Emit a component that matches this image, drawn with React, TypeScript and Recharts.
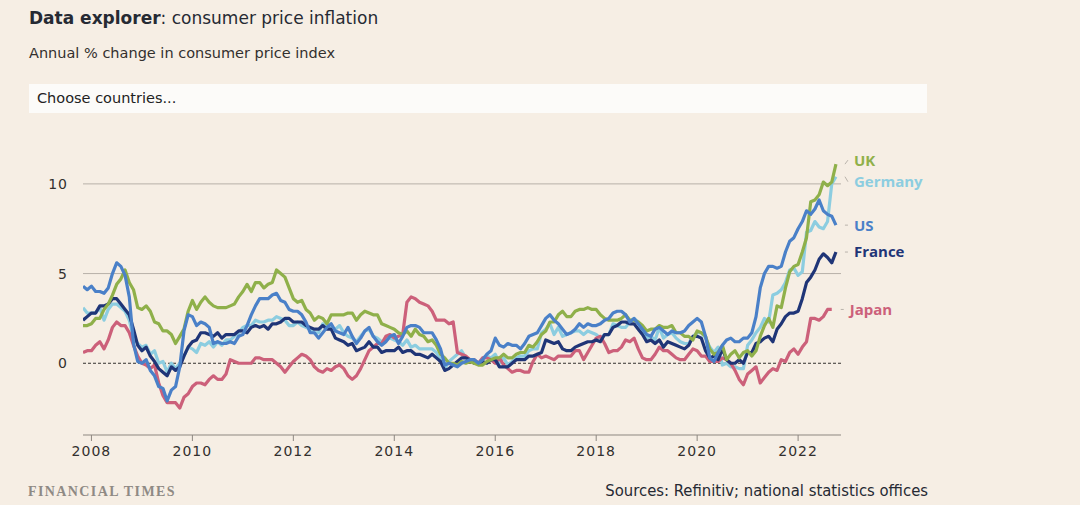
import { Line, LineChart, ReferenceLine, XAxis, YAxis } from "recharts";

// Monthly annual % change in CPI, Nov 2007 to Oct 2022
const START_YEAR = 2007;
const START_MONTH = 11;

const UK = [
  2.1, 2.1,
  2.2, 2.5, 2.5, 3.0, 3.3, 3.8, 4.4, 4.7, 5.2, 4.5, 4.1, 3.1,
  3.0, 3.2, 2.9, 2.3, 2.2, 1.8, 1.8, 1.6, 1.1, 1.5, 1.9, 2.9,
  3.5, 3.0, 3.4, 3.7, 3.4, 3.2, 3.1, 3.1, 3.1, 3.2, 3.3, 3.7,
  4.0, 4.4, 4.0, 4.5, 4.5, 4.2, 4.4, 4.5, 5.2, 5.0, 4.8, 4.2,
  3.6, 3.4, 3.5, 3.0, 2.8, 2.4, 2.6, 2.5, 2.2, 2.7, 2.7, 2.7,
  2.7, 2.8, 2.8, 2.4, 2.7, 2.9, 2.8, 2.7, 2.7, 2.2, 2.1, 2.0,
  1.9, 1.7, 1.6, 1.8, 1.5, 1.9, 1.6, 1.5, 1.2, 1.3, 1.0, 0.5,
  0.3, 0.0, 0.0, -0.1, 0.1, 0.0, 0.1, 0.0, -0.1, -0.1, 0.1, 0.2,
  0.3, 0.3, 0.5, 0.3, 0.3, 0.5, 0.6, 0.6, 1.0, 0.9, 1.2, 1.6,
  1.8, 2.3, 2.3, 2.7, 2.9, 2.6, 2.6, 2.9, 3.0, 3.0, 3.1, 3.0,
  3.0, 2.7, 2.5, 2.4, 2.4, 2.4, 2.5, 2.7, 2.4, 2.4, 2.3, 2.1,
  1.8, 1.9, 1.9, 2.1, 2.0, 2.0, 2.1, 1.7, 1.7, 1.5, 1.5, 1.3,
  1.8, 1.7, 1.5, 0.8, 0.5, 0.6, 1.0, 0.2, 0.5, 0.7, 0.3, 0.6,
  0.7, 0.4, 0.7, 1.5, 2.1, 2.5, 2.0, 3.2, 3.1, 4.2, 5.1, 5.4,
  5.5, 6.2, 7.0, 9.0, 9.1, 9.4, 10.1, 9.9, 10.1, 11.1,
];

const US = [
  4.3, 4.1,
  4.3, 4.0, 4.0, 3.9, 4.2, 5.0, 5.6, 5.4, 4.9, 3.7, 1.1, 0.1,
  0.0, 0.2, -0.4, -0.7, -1.3, -1.4, -2.1, -1.5, -1.3, -0.2, 1.8, 2.7,
  2.6, 2.1, 2.3, 2.2, 2.0, 1.1, 1.2, 1.1, 1.1, 1.2, 1.1, 1.5,
  1.6, 2.1, 2.7, 3.2, 3.6, 3.6, 3.6, 3.8, 3.9, 3.5, 3.4, 3.0,
  2.9, 2.9, 2.7, 2.3, 1.7, 1.7, 1.4, 1.7, 2.0, 2.2, 1.8, 1.7,
  1.6, 2.0, 1.5, 1.1, 1.4, 1.8, 2.0, 1.5, 1.2, 1.0, 1.2, 1.5,
  1.6, 1.1, 1.5, 2.0, 2.1, 2.1, 2.0, 1.7, 1.7, 1.7, 1.3, 0.8,
  -0.1, 0.0, -0.1, -0.2, 0.0, 0.1, 0.2, 0.2, 0.0, 0.2, 0.5, 0.7,
  1.4, 1.0, 0.9, 1.1, 1.0, 1.0, 0.8, 1.1, 1.5, 1.6, 1.7, 2.1,
  2.5, 2.7, 2.4, 2.2, 1.9, 1.6, 1.7, 1.9, 2.2, 2.0, 2.2, 2.1,
  2.1, 2.2, 2.4, 2.5, 2.8, 2.9, 2.9, 2.7, 2.3, 2.5, 2.2, 1.9,
  1.6, 1.5, 1.9, 2.0, 1.8, 1.6, 1.8, 1.7, 1.7, 1.8, 2.1, 2.3,
  2.5, 2.3, 1.5, 0.3, 0.1, 0.6, 1.0, 1.3, 1.4, 1.2, 1.2, 1.4,
  1.4, 1.7, 2.6, 4.2, 5.0, 5.4, 5.4, 5.3, 5.4, 6.2, 6.8, 7.0,
  7.5, 7.9, 8.5, 8.3, 8.6, 9.1, 8.5, 8.3, 8.2, 7.7,
];

const GERMANY = [
  3.1, 2.8,
  2.8, 2.8, 3.1, 2.4, 3.0, 3.3, 3.3, 3.1, 2.9, 2.4, 1.4, 1.1,
  0.9, 1.0, 0.5, 0.7, 0.0, 0.1, -0.5, 0.0, -0.3, 0.0, 0.4, 0.9,
  0.8, 0.6, 1.1, 1.0, 1.2, 0.9, 1.2, 1.0, 1.3, 1.3, 1.5, 1.7,
  2.0, 2.1, 2.1, 2.4, 2.3, 2.3, 2.4, 2.4, 2.6, 2.5, 2.4, 2.1,
  2.1, 2.3, 2.1, 2.0, 1.9, 1.7, 1.7, 2.2, 2.1, 2.0, 1.9, 2.1,
  1.7, 1.5, 1.4, 1.2, 1.5, 1.8, 1.9, 1.5, 1.4, 1.2, 1.3, 1.4,
  1.3, 1.2, 1.0, 1.3, 0.9, 1.0, 0.8, 0.8, 0.8, 0.8, 0.6, 0.2,
  -0.3, 0.1, 0.3, 0.5, 0.7, 0.3, 0.2, 0.2, 0.0, 0.3, 0.4, 0.3,
  0.5, 0.0, 0.3, -0.1, 0.1, 0.3, 0.4, 0.4, 0.7, 0.8, 0.8, 1.7,
  1.9, 2.2, 1.6, 2.0, 1.5, 1.6, 1.7, 1.8, 1.8, 1.6, 1.8, 1.7,
  1.6, 1.4, 1.6, 1.6, 2.2, 2.1, 2.0, 2.0, 2.3, 2.5, 2.3, 1.7,
  1.4, 1.5, 1.3, 2.0, 1.4, 1.6, 1.7, 1.4, 1.2, 1.1, 1.1, 1.5,
  1.7, 1.7, 1.4, 0.9, 0.6, 0.9, -0.1, 0.0, -0.2, -0.2, -0.3, -0.3,
  1.0, 1.3, 1.7, 2.0, 2.5, 2.3, 3.8, 3.9, 4.1, 4.5, 5.2, 5.3,
  4.9, 5.1, 7.3, 7.4, 7.9, 7.6, 7.5, 7.9, 10.0, 10.4,
];

const FRANCE = [
  2.4, 2.6,
  2.8, 2.8, 3.2, 3.2, 3.3, 3.6, 3.6, 3.3, 3.0, 2.7, 1.9, 1.0,
  0.7, 0.9, 0.4, 0.1, -0.3, -0.5, -0.7, -0.2, -0.4, -0.2, 0.4, 0.9,
  1.2, 1.3, 1.7, 1.7, 1.6, 1.5, 1.7, 1.4, 1.6, 1.6, 1.6, 1.8,
  1.8, 1.7, 2.0, 2.1, 2.0, 2.1, 1.9, 2.2, 2.2, 2.3, 2.5, 2.5,
  2.3, 2.3, 2.3, 2.1, 2.0, 1.9, 1.9, 2.1, 1.9, 1.9, 1.4, 1.3,
  1.2, 1.0, 1.1, 0.7, 0.8, 0.9, 1.2, 0.9, 0.9, 0.6, 0.7, 0.7,
  0.7, 0.9, 0.6, 0.7, 0.7, 0.5, 0.5, 0.4, 0.3, 0.5, 0.3, 0.1,
  -0.4, -0.3, -0.1, 0.1, 0.3, 0.3, 0.2, 0.0, 0.0, 0.1, 0.0, 0.2,
  0.2, -0.2, -0.2, -0.2, 0.0, 0.2, 0.2, 0.2, 0.4, 0.4, 0.5, 0.6,
  1.3, 1.2, 1.1, 1.2, 0.8, 0.7, 0.7, 0.9, 1.0, 1.1, 1.2, 1.2,
  1.3, 1.2, 1.6, 1.6, 2.0, 2.1, 2.3, 2.3, 2.2, 2.2, 1.9, 1.6,
  1.2, 1.3, 1.1, 1.3, 0.9, 1.2, 1.1, 1.0, 0.9, 0.8, 1.0, 1.5,
  1.5, 1.4, 0.7, 0.3, 0.4, 0.2, 0.8, 0.2, 0.0, 0.0, 0.2, 0.0,
  0.6, 0.6, 1.1, 1.2, 1.4, 1.5, 1.2, 1.9, 2.2, 2.6, 2.8, 2.8,
  2.9, 3.6, 4.5, 4.8, 5.2, 5.8, 6.1, 5.9, 5.6, 6.2,
];

const JAPAN = [
  0.6, 0.7,
  0.7, 1.0, 1.2, 0.8, 1.3, 2.0, 2.3, 2.1, 2.1, 1.7, 1.0, 0.4,
  0.0, -0.1, -0.3, -0.1, -1.1, -1.8, -2.2, -2.2, -2.2, -2.5, -1.9, -1.7,
  -1.3, -1.1, -1.1, -1.2, -0.9, -0.7, -0.9, -0.9, -0.6, 0.2, 0.1, 0.0,
  0.0, 0.0, 0.0, 0.3, 0.3, 0.2, 0.2, 0.2, 0.0, -0.2, -0.5, -0.2,
  0.1, 0.3, 0.5, 0.4, 0.2, -0.2, -0.4, -0.5, -0.3, -0.4, -0.2, -0.1,
  -0.3, -0.7, -0.9, -0.7, -0.3, 0.2, 0.7, 0.9, 1.1, 1.1, 1.5, 1.6,
  1.4, 1.5, 1.6, 3.4, 3.7, 3.6, 3.4, 3.3, 3.2, 2.9, 2.4, 2.4,
  2.4, 2.2, 2.3, 0.6, 0.5, 0.4, 0.2, 0.2, 0.0, 0.3, 0.3, 0.2,
  0.0, 0.3, -0.1, -0.3, -0.5, -0.4, -0.4, -0.5, -0.5, 0.1, 0.5, 0.3,
  0.4, 0.3, 0.2, 0.4, 0.4, 0.4, 0.4, 0.7, 0.7, 0.2, 0.6, 1.0,
  1.4, 1.5, 1.1, 0.6, 0.7, 0.7, 0.9, 1.3, 1.2, 1.4, 0.8, 0.3,
  0.2, 0.2, 0.5, 0.9, 0.7, 0.7, 0.5, 0.3, 0.2, 0.2, 0.5, 0.8,
  0.7, 0.4, 0.4, 0.1, 0.1, 0.1, 0.3, 0.2, 0.0, -0.4, -0.9, -1.2,
  -0.6, -0.4, -0.2, -1.1, -0.8, -0.5, -0.3, -0.4, 0.2, 0.1, 0.6, 0.8,
  0.5, 0.9, 1.2, 2.5, 2.5, 2.4, 2.6, 3.0, 3.0,
];

const X_TICKS = [2008, 2010, 2012, 2014, 2016, 2018, 2020, 2022];
const Y_TICKS = [0, 5, 10];
const GRID_VALUES = [5, 10];

const SERIES = [
  { key: "Germany", values: GERMANY, color: "#8ccde0", nudge: 5 },
  { key: "Japan", values: JAPAN, color: "#cc607a", nudge: 0 },
  { key: "France", values: FRANCE, color: "#1f3577", nudge: 0 },
  { key: "UK", values: UK, color: "#8fb04a", nudge: -4 },
  { key: "US", values: US, color: "#4a80c8", nudge: 0 },
];

const rows = UK.map((_, i) => {
  const row: Record<string, number | null> = {
    t: START_YEAR + (START_MONTH - 1 + i) / 12,
  };
  for (const s of SERIES) row[s.key] = s.values[i] ?? null;
  return row;
});

const SANS = "'DejaVu Sans', 'Open Sans', sans-serif";
const LABEL_SANS = "'Open Sans', 'Noto Sans', sans-serif";
const NARROW = "'Liberation Sans Narrow', 'DejaVu Sans Condensed', sans-serif";

function endLabel(name: string, color: string, lastIndex: number, nudge: number) {
  return (props: any) => {
    if (props.index !== lastIndex || props.x == null || props.y == null) return null;
    const { x, y } = props;
    return (
      <g>
        <line x1={x + 9} y1={y} x2={x + 12} y2={y + nudge} stroke="#b9b3ab" strokeWidth={1} />
        <text
          x={x + 18}
          y={y + nudge}
          dy="0.36em"
          fill={color}
          fontFamily={LABEL_SANS}
          fontWeight={700}
          fontSize={15}
        >
          {name}
        </text>
      </g>
    );
  };
}

function YTick(props: any) {
  return (
    <text
      x={68}
      y={props.y}
      dy="0.36em"
      textAnchor="end"
      fill="#33302e"
      fontFamily={SANS}
      fontSize={14}
      letterSpacing={1}
    >
      {props.payload.value}
    </text>
  );
}

export default function App() {
  return (
    <div
      style={{
        position: "absolute",
        left: 0,
        top: 0,
        width: 1080,
        height: 505,
        background: "#f6eee4",
        overflow: "hidden",
      }}
    >
      <div
        style={{
          position: "absolute",
          left: 29,
          top: 8,
          lineHeight: "21px",
          fontFamily: SANS,
          fontSize: 17,
          color: "#262a33",
          whiteSpace: "nowrap",
        }}
      >
        <span style={{ fontWeight: 700 }}>Data explorer</span>: consumer price inflation
      </div>
      <div
        style={{
          position: "absolute",
          left: 29,
          top: 44,
          lineHeight: "18px",
          fontFamily: SANS,
          fontSize: 14.5,
          color: "#33302e",
          whiteSpace: "nowrap",
        }}
      >
        Annual % change in consumer price index
      </div>
      <div
        style={{
          position: "absolute",
          left: 29,
          top: 84,
          width: 898,
          height: 29,
          background: "#fcfbf9",
          fontFamily: SANS,
          fontSize: 14.5,
          color: "#222",
          lineHeight: "29px",
          paddingLeft: 8,
          boxSizing: "border-box",
        }}
      >
        Choose countries...
      </div>

      <LineChart
        width={1080}
        height={505}
        data={rows}
        margin={{ top: 148, right: 239, bottom: 40, left: 53 }}
        style={{ position: "absolute", left: 0, top: 0 }}
      >
        <XAxis
          dataKey="t"
          type="number"
          domain={[2007.833, 2022.85]}
          ticks={X_TICKS}
          allowDataOverflow
          axisLine={{ stroke: "#8d8780" }}
          tickLine={{ stroke: "#8d8780" }}
          tickSize={6}
          tickMargin={5}
          tick={{ fill: "#33302e", fontFamily: SANS, fontSize: 14, letterSpacing: 1 }}
          height={30}
        />
        <YAxis
          type="number"
          domain={[-4, 12]}
          ticks={Y_TICKS}
          axisLine={false}
          tickLine={false}
          tick={<YTick />}
          width={30}
        />
        {GRID_VALUES.map((v) => (
          <ReferenceLine key={v} y={v} stroke="#b7b0a8" strokeWidth={1} />
        ))}
        <ReferenceLine y={0} stroke="#33302e" strokeDasharray="3 2" strokeWidth={1} />
        {SERIES.map((s) => (
          <Line
            key={s.key}
            dataKey={s.key}
            type="linear"
            stroke={s.color}
            strokeWidth={3.2}
            strokeLinejoin="round"
            dot={false}
            activeDot={false}
            isAnimationActive={false}
            label={endLabel(s.key, s.color, s.values.length - 1, s.nudge)}
          />
        ))}
      </LineChart>

      <div
        style={{
          position: "absolute",
          left: 28,
          top: 484,
          lineHeight: "16px",
          fontFamily: "'Liberation Serif', serif",
          fontWeight: 700,
          fontSize: 14,
          color: "#8f8a84",
          letterSpacing: 1.4,
          whiteSpace: "nowrap",
        }}
      >
        FINANCIAL TIMES
      </div>
      <div
        style={{
          position: "absolute",
          right: 152,
          top: 481,
          lineHeight: "20px",
          fontFamily: NARROW,
          fontSize: 16.5,
          color: "#262a33",
          whiteSpace: "nowrap",
        }}
      >
        Sources: Refinitiv; national statistics offices
      </div>
    </div>
  );
}
